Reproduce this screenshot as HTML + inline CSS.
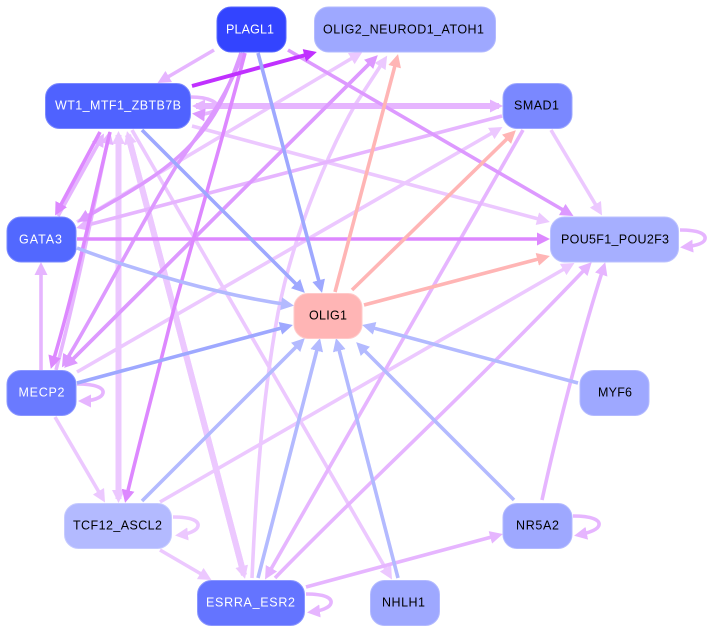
<!DOCTYPE html>
<html><head><meta charset="utf-8"><style>
html,body{margin:0;padding:0;background:#fff}
svg{display:block}
text{font-family:"Liberation Sans",sans-serif;font-size:12.5px}
path{fill:none}
</style></head><body>
<svg width="709" height="632" viewBox="0 0 709 632" xmlns="http://www.w3.org/2000/svg">
<defs>
<marker id="a" markerUnits="userSpaceOnUse" markerWidth="15" markerHeight="15" refX="9" refY="6.500" orient="auto"><path d="M0 0L13 6.500L0 13z" style="fill:#ecc8ff"/></marker>
<marker id="b" markerUnits="userSpaceOnUse" markerWidth="15" markerHeight="15" refX="9" refY="6.500" orient="auto"><path d="M0 0L13 6.500L0 13z" style="fill:#e6b5ff"/></marker>
<marker id="c" markerUnits="userSpaceOnUse" markerWidth="15" markerHeight="15" refX="9" refY="6.500" orient="auto"><path d="M0 0L13 6.500L0 13z" style="fill:#dd88ff"/></marker>
<marker id="h" markerUnits="userSpaceOnUse" markerWidth="15" markerHeight="15" refX="9" refY="6.500" orient="auto"><path d="M0 0L13 6.500L0 13z" style="fill:#dd99ff"/></marker>
<marker id="d" markerUnits="userSpaceOnUse" markerWidth="15" markerHeight="15" refX="9" refY="6.500" orient="auto"><path d="M0 0L13 6.500L0 13z" style="fill:#c030ff"/></marker>
<marker id="e" markerUnits="userSpaceOnUse" markerWidth="15" markerHeight="15" refX="9" refY="6.500" orient="auto"><path d="M0 0L13 6.500L0 13z" style="fill:#9ea8ff"/></marker>
<marker id="f" markerUnits="userSpaceOnUse" markerWidth="15" markerHeight="15" refX="9" refY="6.500" orient="auto"><path d="M0 0L13 6.500L0 13z" style="fill:#b3baff"/></marker>
<marker id="g" markerUnits="userSpaceOnUse" markerWidth="15" markerHeight="15" refX="9" refY="6.500" orient="auto"><path d="M0 0L13 6.500L0 13z" style="fill:#ffb5b5"/></marker>
</defs>

<g stroke-width="3.600">
<!-- lightest -->
<g stroke="#ecc8ff">
<path d="M551 130L600 212" marker-end="url(#a)"/>
<path d="M192 126L546 221" marker-end="url(#a)"/>
<path d="M132 130L390 576" marker-end="url(#a)"/>
<path d="M77 372L499 129" marker-end="url(#a)"/>
<path d="M55 417L103 499" marker-end="url(#a)"/>
<path d="M173 517C192 517 199 521 198 526C197 531 188 534 179 535" marker-end="url(#a)"/>
<path d="M160 550L208 578" marker-end="url(#a)"/>
<path d="M160 502L571 265" marker-end="url(#a)"/>
<path d="M252 578C256 490 262 400 278 313C295 225 335 140 355 105L385 59" marker-end="url(#a)"/>
<path d="M77 222L359 54" marker-end="url(#a)"/>
<path d="M118.500 135L118.500 499" stroke-width="6" marker-end="url(#a)"/>
<path d="M118.500 499L118.500 135" stroke-width="6" marker-end="url(#a)"/>
<path d="M128 135L244 575" stroke-width="6" marker-end="url(#a)"/>
<path d="M244 575L128 135" stroke-width="6" marker-end="url(#a)"/>
</g>
<!-- light -->
<g stroke="#e6b5ff">
<path d="M214 50L161 81" marker-end="url(#b)"/>
<path d="M502 116L80 227" marker-end="url(#b)"/>
<path d="M523 130L267 576" marker-end="url(#b)"/>
<path d="M41 370L41 266" marker-end="url(#b)"/>
<path d="M58 216L102 137" marker-end="url(#b)"/>
<path d="M56 370C75 300 95 200 109 135" marker-end="url(#b)"/>
<path d="M275 578C350 500 470 390 589 265" marker-end="url(#b)"/>
<path d="M306 587L499 535" marker-end="url(#b)"/>
<path d="M542 500C555 440 580 340 604 266" marker-end="url(#b)"/>
<path d="M197 106L499 106" stroke-width="6" marker-end="url(#b)"/>
<path d="M499 106L196 106" stroke-width="6" marker-end="url(#b)"/>
<path d="M191 97C210 97 218 103 217 107C216 112 205 115 196 114" marker-end="url(#h)"/>
<path d="M77 384C96 384 104 388 103 393C102 398 92 401 82 401" marker-end="url(#b)"/>
<path d="M306 594C325 594 332 598 331 603C330 608 320 611 311 612" marker-end="url(#b)"/>
<path d="M573 516C592 516 600 520 599 525C598 530 588 533 578 535" marker-end="url(#b)"/>
<path d="M680 230C699 230 706 234 705 239C704 244 694 246 684 247" marker-end="url(#b)"/>
</g>
<!-- purple -->
<g stroke="#dd99ff">
<path d="M241 53C228 90 218 115 195 140C165 175 115 200 81 220" marker-end="url(#h)"/>
<path d="M243 53C225 100 205 125 177 165C140 225 100 305 64 364" marker-end="url(#h)"/>
<path d="M288 50L570 214" marker-end="url(#h)"/>
<path d="M68 364L375 58" marker-end="url(#h)"/>
<path d="M375 58L67 365" marker-end="url(#h)"/>
</g>
<g stroke="#dd88ff">
<path d="M245 53C225 130 190 250 172 316C155 385 140 440 126 499" marker-end="url(#c)"/>
<path d="M100 132L57 212" marker-end="url(#c)"/>
<path d="M110 132C95 195 72 300 52 365" marker-end="url(#c)"/>
<path d="M77 239L546 239" marker-end="url(#c)"/>
</g>
<path d="M192 86L313 53" stroke="#c030ff" stroke-width="4" marker-end="url(#d)"/>
<!-- blue -->
<g stroke="#9ea8ff">
<path d="M258 53L321 289" marker-end="url(#e)"/>
<path d="M142 130L302 290" marker-end="url(#e)"/>
<path d="M77 383L289 326" marker-end="url(#e)"/>
</g>
<g stroke="#b3baff">
<path d="M77 248C140 272 220 295 290 305" marker-end="url(#f)"/>
<path d="M142 501L302 341" marker-end="url(#f)"/>
<path d="M258 578L319 342" marker-end="url(#f)"/>
<path d="M514 500L359 345" marker-end="url(#f)"/>
<path d="M398 578L337 342" marker-end="url(#f)"/>
<path d="M578 383L366 326" marker-end="url(#f)"/>
</g>
<g stroke="#ffb5b5">
<path d="M335 292L397 58" marker-end="url(#g)"/>
<path d="M352 290L513 133" marker-end="url(#g)"/>
<path d="M364 305L546 257" marker-end="url(#g)"/>
</g>
</g>

<g stroke-width="1">
<rect x="217" y="7" width="69" height="45" rx="14" fill="#3344ff" stroke="#5a68ff"/>
<rect x="314.500" y="7" width="181" height="45" rx="14" fill="#9ea8ff" stroke="#b3baff"/>
<rect x="45.500" y="83.500" width="145" height="45" rx="14" fill="#4f62ff" stroke="#7a88ff"/>
<rect x="503" y="83.500" width="69" height="45" rx="14" fill="#7a88ff" stroke="#9ea8ff"/>
<rect x="7" y="217" width="69" height="45" rx="14" fill="#5268ff" stroke="#7a88ff"/>
<rect x="550.500" y="217" width="128" height="45" rx="14" fill="#a6afff" stroke="#bcc2ff"/>
<rect x="294" y="293.500" width="68" height="45" rx="14" fill="#ffb5b5" stroke="#ffcaca"/>
<rect x="7" y="370.500" width="69" height="45" rx="14" fill="#6a7aff" stroke="#8a96ff"/>
<rect x="580" y="370.500" width="69" height="45" rx="14" fill="#9ea8ff" stroke="#b3baff"/>
<rect x="64.500" y="503.500" width="107" height="45" rx="14" fill="#b3baff" stroke="#c6cbff"/>
<rect x="503" y="503.500" width="69" height="45" rx="14" fill="#9ea8ff" stroke="#b3baff"/>
<rect x="197.500" y="580.500" width="107" height="45" rx="14" fill="#6474ff" stroke="#8a96ff"/>
<rect x="370.500" y="580.500" width="69" height="45" rx="14" fill="#9ea8ff" stroke="#b3baff"/>
</g>

<g fill="#fff">
<text x="226" y="33.500" textLength="48">PLAGL1</text>
<text x="55" y="109.500" textLength="126">WT1_MTF1_ZBTB7B</text>
<text x="19" y="243.500" textLength="43">GATA3</text>
<text x="18.500" y="396.500" textLength="46">MECP2</text>
<text x="206" y="606.500" textLength="89">ESRRA_ESR2</text>
</g>
<g fill="#000">
<text x="323" y="33.500" textLength="161">OLIG2_NEUROD1_ATOH1</text>
<text x="514" y="109.500" textLength="45">SMAD1</text>
<text x="561" y="243.500" textLength="108">POU5F1_POU2F3</text>
<text x="309" y="319.500" textLength="38">OLIG1</text>
<text x="598" y="396.500" textLength="34">MYF6</text>
<text x="73" y="529.500" textLength="89">TCF12_ASCL2</text>
<text x="516" y="529.500" textLength="43">NR5A2</text>
<text x="382" y="606.500" textLength="43">NHLH1</text>
</g>
</svg>
</body></html>
